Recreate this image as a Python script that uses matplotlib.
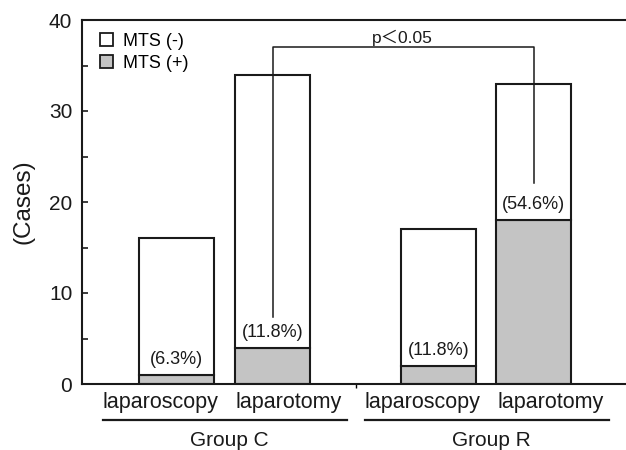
import matplotlib
matplotlib.use("Agg")
import matplotlib.pyplot as plt
import matplotlib.patches as mpatches
import matplotlib.transforms as mtransforms

plt.rcParams["font.family"] = ["Liberation Sans", "Noto Sans CJK JP", "DejaVu Sans"]

# data
groups = ["Group C", "Group R"]
categories = ["laparoscopy", "laparotomy", "laparoscopy", "laparotomy"]
total_cases = [16, 34, 17, 33]
mts_pos = [1, 4, 2, 18]
pct_labels = ["(6.3%)", "(11.8%)", "(11.8%)", "(54.6%)"]
mts_neg = [t - p for t, p in zip(total_cases, mts_pos)]

positions = [0, 1, 2.73, 3.72]
group_centers = [0.5, 3.23]
bar_w = 0.78
ink = "#1a1a1a"
gray = "#c4c4c4"

fig = plt.figure(figsize=(6.26, 4.5), dpi=100)
ax = fig.add_axes([82 / 626, 1 - 384 / 450, 1 - 82 / 626, 364 / 450])

ax.bar(positions, mts_pos, width=bar_w, color=gray, edgecolor=ink, linewidth=1.5, zorder=2)
ax.bar(positions, mts_neg, width=bar_w, bottom=mts_pos, color="white",
       edgecolor=ink, linewidth=1.5, zorder=2)

for x, p, lab in zip(positions, mts_pos, pct_labels):
    ax.annotate(lab, xy=(x, p), xytext=(0, 5), textcoords="offset points",
                ha="center", va="bottom", fontsize=13, color=ink, zorder=4)

# significance bracket between C-laparotomy and R-laparotomy
br_top = 37
ax.plot([positions[1], positions[1], positions[3], positions[3]],
        [7.4, br_top, br_top, 22.1], color=ink, linewidth=1.1, zorder=3)
ax.text(2.35, br_top + 0.15, "p\uff1c0.05", ha="center", va="bottom", fontsize=12.5, color=ink)

ax.set_xlim(-0.984, 4.68)
ax.set_ylim(0, 40)
ax.set_yticks([0, 10, 20, 30, 40])
ax.set_yticks([5, 15, 25, 35], minor=True)
ax.tick_params(axis="y", which="both", direction="in", length=4, width=1.2,
               labelsize=15, pad=7, colors=ink)
ax.set_xticks([(positions[1] + positions[2]) / 2])
ax.set_xticklabels([""])
ax.tick_params(axis="x", direction="out", length=3, width=1)

for s in ["left", "top", "bottom"]:
    ax.spines[s].set_linewidth(1.5)
    ax.spines[s].set_color(ink)
ax.spines["right"].set_visible(False)

ax.set_ylabel("(Cases)", fontsize=17.5, color=ink)
ax.yaxis.set_label_coords(-0.088, 0.5)

# category labels, underlines and group names below the axis
trans = mtransforms.blended_transform_factory(ax.transData, ax.transAxes)
for gi, gc in enumerate(group_centers):
    ax.text(gc - 0.67, -0.052, categories[2 * gi], transform=trans, ha="center",
            va="center", fontsize=15.5, color=ink)
    ax.text(gc + 0.67, -0.052, categories[2 * gi + 1], transform=trans, ha="center",
            va="center", fontsize=15.5, color=ink)
    ax.plot([gc - 1.27, gc + 1.27], [-0.099, -0.099], transform=trans, color=ink,
            linewidth=1.6, clip_on=False)
    ax.text(gc + 0.05, -0.154, groups[gi], transform=trans, ha="center",
            va="center", fontsize=15, color=ink)

handles = [
    mpatches.Patch(facecolor="white", edgecolor=ink, linewidth=1.3, label="MTS (-)"),
    mpatches.Patch(facecolor=gray, edgecolor=ink, linewidth=1.3, label="MTS (+)"),
]
ax.legend(handles=handles, loc="upper left", bbox_to_anchor=(0.033, 0.965),
          frameon=False, fontsize=13, handlelength=0.75, handleheight=0.75,
          handletextpad=0.5, labelspacing=0.3, borderpad=0, borderaxespad=0)

fig.savefig("out.png", dpi=100)
